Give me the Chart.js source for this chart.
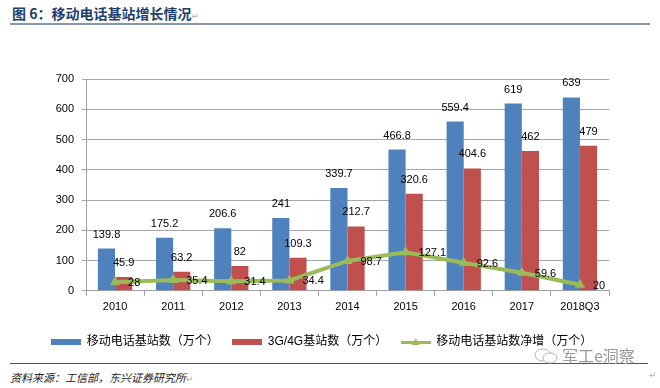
<!DOCTYPE html>
<html>
<head>
<meta charset="utf-8">
<script src="https://cdn.jsdelivr.net/npm/chart.js@4.4.0/dist/chart.umd.min.js"></script>
<style>
  body { margin: 0; width: 660px; height: 388px; background: #fff; position: relative; overflow: hidden; font-family: "Noto Sans CJK SC", sans-serif; }
  #title { position: absolute; left: 12px; top: 3px; font-size: 14px; font-weight: bold; color: #1f3f6e; line-height: 20px; white-space: nowrap; }
  .mark { color: #b0b0b0; font-weight: normal; font-size: 9px; font-family: "DejaVu Sans", sans-serif; }
  #topline { position: absolute; left: 10px; top: 23px; width: 640px; height: 2px; background: #8797ad; }
  #box { position: absolute; left: 0; top: 40px; width: 644px; height: 320px; }
  #bottomline { position: absolute; left: 10px; top: 363px; width: 638px; height: 1px; background: #3d5c6e; }
  #source { position: absolute; left: 10px; top: 369px; font-size: 11px; font-style: italic; color: #222; line-height: 16px; white-space: nowrap; }
  #wm { position: absolute; left: 562px; top: 345px; font-size: 16px; color: #9a9a9a; line-height: 20px; white-space: nowrap; }
  #wmicon { position: absolute; left: 534px; top: 347px; }
  #endmark { position: absolute; left: 649px; top: 370px; }
</style>
</head>
<body>
<div id="title">图 6：移动电话基站增长情况<span class="mark">↵</span></div>
<div id="topline"></div>
<div id="box"><canvas id="myChart"></canvas></div>
<div id="bottomline"></div>
<svg id="wmicon" width="26" height="18" viewBox="0 0 26 18"><ellipse cx="9" cy="8" rx="8" ry="6" fill="none" stroke="#b5b5b5" stroke-width="1"/><ellipse cx="16" cy="11" rx="7" ry="5" fill="#fff" stroke="#b5b5b5" stroke-width="1"/></svg>
<div id="wm">军工e洞察</div>
<div id="source">资料来源：工信部，东兴证券研究所<span class="mark">↵</span></div>
<div id="endmark" class="mark">↵</div>
<script>
const years = ["2010", "2011", "2012", "2013", "2014", "2015", "2016", "2017", "2018Q3"];
const stations = [139.8, 175.2, 206.6, 241, 339.7, 466.8, 559.4, 619, 639];
const stations3g4g = [45.9, 63.2, 82, 109.3, 212.7, 320.6, 404.6, 462, 479];
const netAdds = [28, 35.4, 31.4, 34.4, 98.7, 127.1, 92.6, 59.6, 20];
const yTicks = [0, 100, 200, 300, 400, 500, 600, 700];

const blue = '#4f81bd';
const red = '#c0504d';
const green = '#9bbb59';

// legend swatches
function swatch(color, marker) {
  const c = document.createElement('canvas');
  c.width = 30; c.height = 12;
  const g = c.getContext('2d');
  g.fillStyle = color;
  if (marker) {
    g.fillRect(0, 5, 30, 3);
    g.beginPath();
    g.moveTo(15, 2); g.lineTo(19, 9); g.lineTo(11, 9);
    g.closePath(); g.fill();
  } else {
    g.fillRect(0, 3, 30, 6);
  }
  return c;
}
const swatches = [swatch(blue), swatch(red), swatch(green, true)];

const valueLabels = {
  id: 'valueLabels',
  afterDatasetsDraw(chart) {
    const ctx = chart.ctx;
    ctx.save();
    ctx.font = '11px "Liberation Sans", Arial, sans-serif';
    ctx.fillStyle = '#000';
    ctx.textBaseline = 'middle';
    chart.data.datasets.forEach((ds, i) => {
      chart.getDatasetMeta(i).data.forEach((el, j) => {
        const txt = String(ds.data[j]);
        if (ds.type === 'line') {
          ctx.textAlign = 'left';
          ctx.fillText(txt, el.x + 13, el.y + 1);
        } else {
          ctx.textAlign = 'center';
          ctx.fillText(txt, el.x, el.y - 14);
        }
      });
    });
    ctx.restore();
  }
};

const ctx = document.getElementById('myChart');
new Chart(ctx, {
  type: 'bar',
  data: {
    labels: years,
    datasets: [{
      label: '移动电话基站数（万个）',
      data: stations,
      backgroundColor: blue,
      barPercentage: 1,
      categoryPercentage: 0.59,
      order: 1
    }, {
      label: '3G/4G基站数（万个）',
      data: stations3g4g,
      backgroundColor: red,
      barPercentage: 1,
      categoryPercentage: 0.59,
      order: 1
    }, {
      type: 'line',
      label: '移动电话基站数净增（万个）',
      data: netAdds,
      borderColor: green,
      backgroundColor: green,
      borderWidth: 4,
      pointStyle: 'triangle',
      pointRadius: 6,
      pointBorderWidth: 0,
      tension: 0,
      order: 0
    }]
  },
  options: {
    responsive: true,
    maintainAspectRatio: false,
    animation: false,
    events: [],
    layout: { padding: { top: 39, bottom: 2, left: 0, right: 0 } },
    plugins: {
      tooltip: { enabled: false },
      legend: {
        position: 'bottom',
        labels: {
          usePointStyle: true,
          pointStyleWidth: 29,
          boxHeight: 12,
          padding: 14,
          color: '#000',
          font: { size: 12, family: '"Liberation Sans", "Noto Sans CJK SC", sans-serif' },
          generateLabels: chart => chart.data.datasets.map((ds, i) => ({
            text: ds.label,
            pointStyle: swatches[i],
            fillStyle: ds.backgroundColor,
            strokeStyle: 'transparent',
            lineWidth: 0,
            hidden: false,
            datasetIndex: i,
            fontColor: '#000'
          }))
        }
      }
    },
    scales: {
      x: {
        afterFit: s => { s.height += 3; },
        grid: { drawOnChartArea: false, drawTicks: true, tickLength: 5, color: '#a0a0a0', offset: true },
        border: { color: '#a0a0a0' },
        ticks: { color: '#000', padding: 5, font: { size: 11, family: '"Liberation Sans", Arial, sans-serif' }, maxRotation: 0 }
      },
      y: {
        min: 0,
        max: 700,
        afterBuildTicks: s => { s.ticks = yTicks.map(v => ({ value: v })); },
        afterFit: s => { s.width = 86; },
        grid: { color: '#a6a6a6', tickLength: 4 },
        border: { color: '#a0a0a0' },
        ticks: { color: '#000', padding: 8, font: { size: 11, family: '"Liberation Sans", Arial, sans-serif' } }
      },
      y2: {
        position: 'right',
        display: true,
        grid: { display: false },
        border: { display: false },
        ticks: { display: false },
        afterFit: s => { s.width = 35; }
      }
    }
  },
  plugins: [valueLabels]
});
</script>
</body>
</html>
